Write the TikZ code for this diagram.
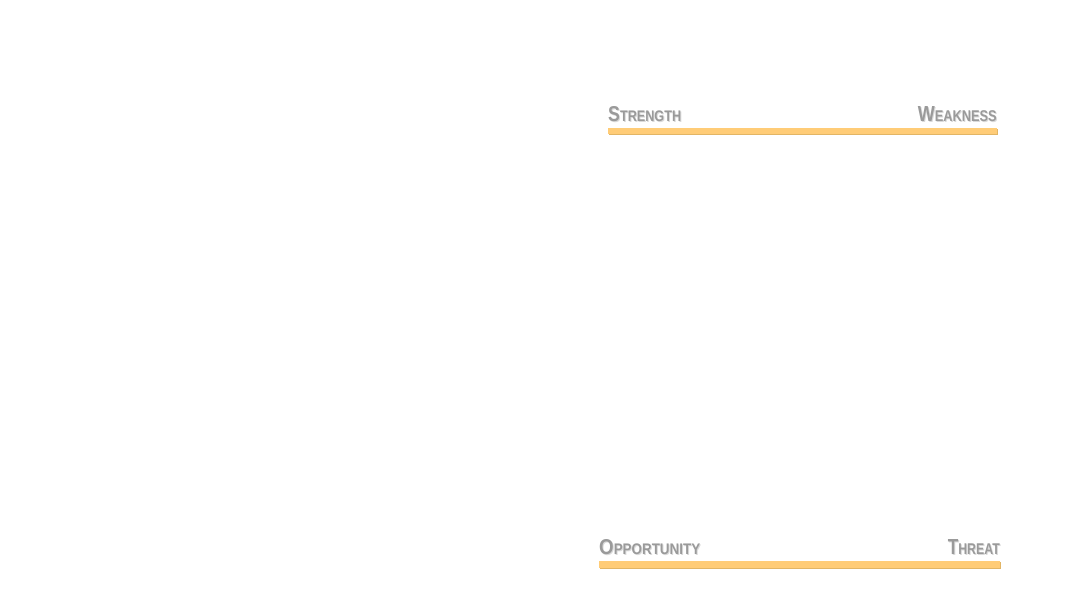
\documentclass[tikz,border=0pt]{standalone}
\usepackage{fontspec}
\setmainfont{Liberation Sans}
\usepackage{graphicx}
\definecolor{barfill}{HTML}{FFCC77}
\definecolor{barshade}{HTML}{E2B565}
\definecolor{lblgray}{HTML}{9A9A9A}
\definecolor{lblshade}{HTML}{DADADA}
\newcommand{\swotlbl}[4]{\resizebox{#1}{#2}{\bfseries{\fontsize{21}{21}\selectfont #3}{\fontsize{15}{15}\selectfont #4}}}
\begin{document}
\begin{tikzpicture}[x=1pt,y=-1pt,
  lbl/.style={inner sep=0pt,text=lblgray},
  lblsh/.style={inner sep=0pt,text=lblshade}]
\useasboundingbox[fill=white] (0,0) rectangle (1080,608);
% bars
\fill[barshade] (608.8,128.8) rectangle (997.8,134.8);
\fill[barfill] (608,128) rectangle (997,134);
\fill[barshade] (599.8,561.8) rectangle (1000.8,568.8);
\fill[barfill] (599,561) rectangle (1000,568);
% labels (shadow + text)
\node[lblsh,anchor=base west] (s2) at (609,122) {\swotlbl{73pt}{15pt}{S}{TRENGTH}};
\node[lbl,anchor=base west] (s) at (608,121) {\swotlbl{73pt}{15pt}{S}{TRENGTH}};
\node[lblsh,anchor=base east] (w2) at (998,122) {\swotlbl{79pt}{15pt}{W}{EAKNESS}};
\node[lbl,anchor=base east] (w) at (997,121) {\swotlbl{79pt}{15pt}{W}{EAKNESS}};
\node[lblsh,anchor=base west] (o2) at (600,555) {\swotlbl{101pt}{15pt}{O}{PPORTUNITY}};
\node[lbl,anchor=base west] (o) at (599,554) {\swotlbl{101pt}{15pt}{O}{PPORTUNITY}};
\node[lblsh,anchor=base east] (t2) at (1001,555) {\swotlbl{52pt}{15pt}{T}{HREAT}};
\node[lbl,anchor=base east] (t) at (1000,554) {\swotlbl{52pt}{15pt}{T}{HREAT}};
\end{tikzpicture}
\end{document}
